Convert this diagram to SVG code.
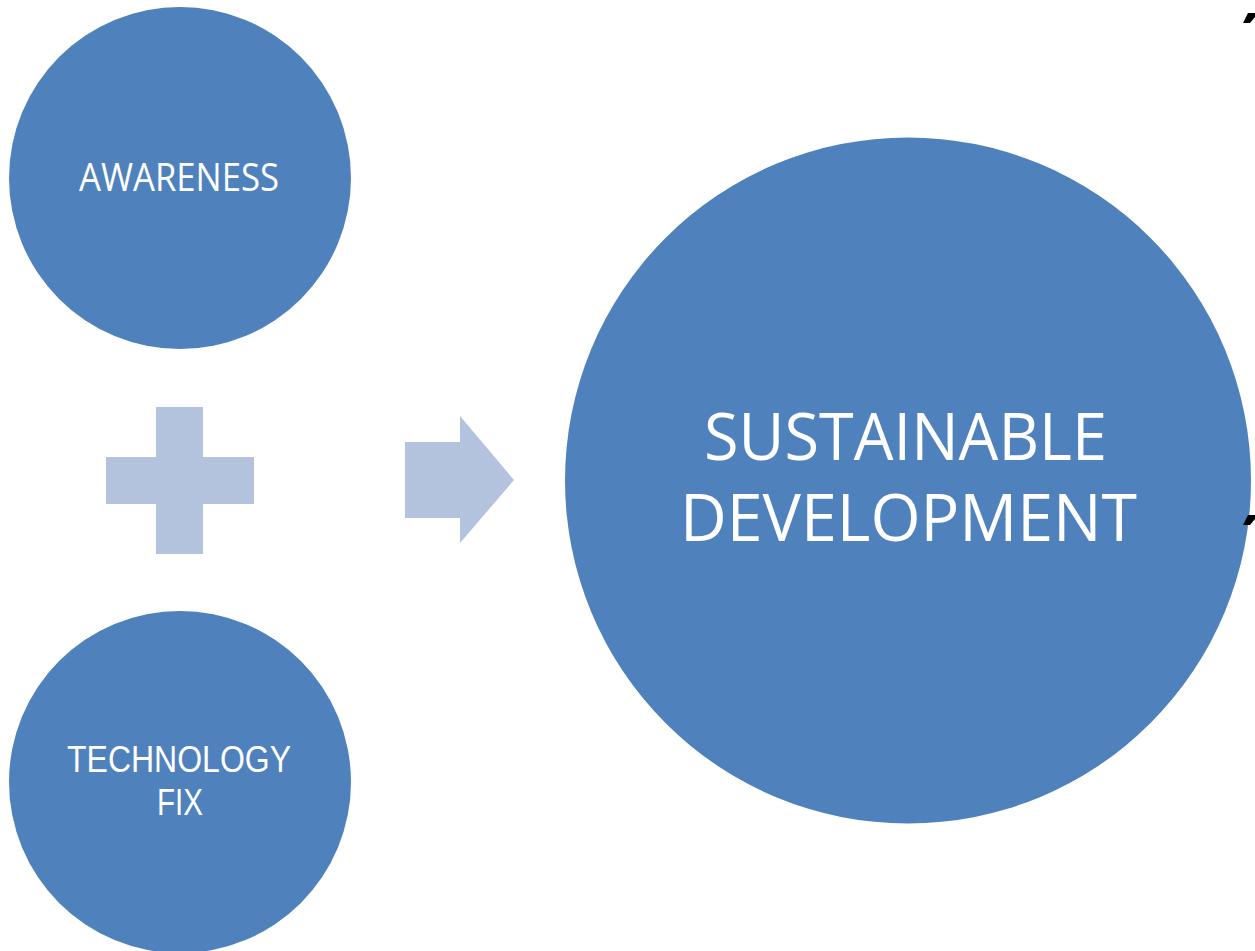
<svg xmlns="http://www.w3.org/2000/svg" width="1255" height="951" viewBox="0 0 1255 951">
<style>
.node{fill:#4F81BD}
.sym{fill:#B3C2DD}
.lbl{fill:#FFFFFF;font-family:"Open Sans","Noto Sans","Liberation Sans",sans-serif;font-weight:400}
.lbl2{fill:#FFFFFF;font-family:"Liberation Sans","Open Sans",sans-serif;font-weight:400}
.mark{fill:#000000}
</style>
<rect width="1255" height="951" fill="#FFFFFF"/>
<g id="awareness">
<circle class="node" cx="180" cy="178" r="171"/>
<text class="lbl" x="79" y="191" font-size="38" textLength="200" lengthAdjust="spacingAndGlyphs">AWARENESS</text>
</g>
<g id="technology-fix">
<circle class="node" cx="180" cy="782" r="171"/>
<text class="lbl2" x="67" y="772" font-size="37" textLength="224" lengthAdjust="spacingAndGlyphs">TECHNOLOGY</text>
<text class="lbl2" x="157" y="815" font-size="37" textLength="46" lengthAdjust="spacingAndGlyphs">FIX</text>
</g>
<g id="sustainable-development">
<circle class="node" cx="908" cy="480.5" r="343"/>
<text class="lbl" x="704" y="460" font-size="66" textLength="403" lengthAdjust="spacingAndGlyphs">SUSTAINABLE</text>
<text class="lbl" x="680" y="541" font-size="66" textLength="457" lengthAdjust="spacingAndGlyphs">DEVELOPMENT</text>
</g>
<g id="connectors">
<path id="plus" class="sym" d="M156,407 H203 V457 H254 V504 H203 V554 H156 V504 H106 V457 H156 Z"/>
<path id="arrow" class="sym" d="M405,442 H460 V416 L514,480 L460,543 V518 H405 Z"/>
</g>
<g id="marks">
<path class="mark" d="M1248,13 H1255 V17 L1250,23 H1243 Z"/>
<path class="mark" d="M1248,515 H1255 V519 L1250,525 H1243 Z"/>
</g>
</svg>
